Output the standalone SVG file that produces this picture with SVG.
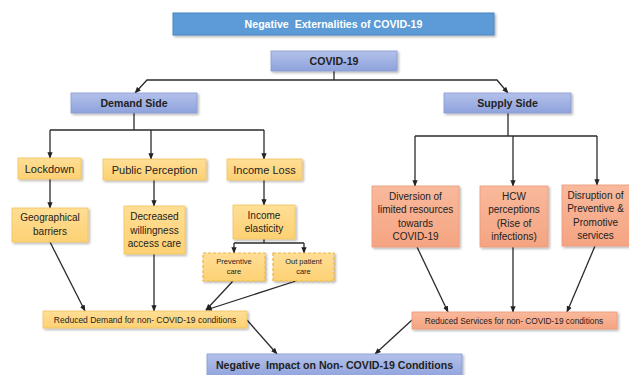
<svg xmlns="http://www.w3.org/2000/svg" width="629" height="375" viewBox="0 0 629 375">
<defs>
<linearGradient id="gLav" x1="0" y1="0" x2="0" y2="1"><stop offset="0" stop-color="#b3c1ea"/><stop offset="1" stop-color="#8ea2dc"/></linearGradient>
<linearGradient id="gYel" x1="0" y1="0" x2="0" y2="1"><stop offset="0" stop-color="#ffde95"/><stop offset="1" stop-color="#fdd174"/></linearGradient>
<linearGradient id="gOra" x1="0" y1="0" x2="0" y2="1"><stop offset="0" stop-color="#f9b99c"/><stop offset="1" stop-color="#f5a481"/></linearGradient>
<filter id="sh" x="-10%" y="-20%" width="125%" height="160%"><feDropShadow dx="1.5" dy="1.5" stdDeviation="1" flood-color="#000" flood-opacity="0.3"/></filter>
<marker id="ah" viewBox="0 0 10 10" refX="9" refY="5" markerWidth="5" markerHeight="5" orient="auto"><path d="M0 1 L10 5 L0 9 z" fill="#222"/></marker>
</defs>
<style>
.t{font-family:"Liberation Sans",Arial,sans-serif;fill:#222;text-anchor:middle}
.b{font-weight:bold}
.blue{fill:#5b9bd5;stroke:#4a86c1;stroke-width:1;filter:url(#sh)}
.lav{fill:url(#gLav);stroke:#8799d2;stroke-width:0.8;filter:url(#sh)}
.yel{fill:url(#gYel);stroke:#f3c45e;stroke-width:0.8;filter:url(#sh)}
.yd{fill:url(#gYel);stroke:#f0b53a;stroke-width:1.2;stroke-dasharray:3 2;filter:url(#sh)}
.ora{fill:url(#gOra);stroke:#ec9a78;stroke-width:0.8;filter:url(#sh)}
.c{fill:none;stroke:#2b2b2b;stroke-width:1.3}
.a{marker-end:url(#ah)}
</style>
<g id="connectors">
<path class="c" d="M334 71 V80"/>
<path class="c a" d="M334 80 H147 L135 93"/>
<path class="c a" d="M334 80 H497 L508 93"/>
<path class="c" d="M134 113 V130 M50 130 H264"/>
<path class="c a" d="M50 130 V158"/>
<path class="c a" d="M151 130 V159"/>
<path class="c a" d="M264 130 V159"/>
<path class="c a" d="M50 179 V208"/>
<path class="c a" d="M154 180 V206"/>
<path class="c a" d="M264 180 V205"/>
<path class="c" d="M264 239 V243 M234 243 H304"/>
<path class="c a" d="M234 243 V253"/>
<path class="c a" d="M304 243 V253"/>
<path class="c a" d="M50 242 L85 311"/>
<path class="c a" d="M154 254 V311"/>
<path class="c a" d="M233 281 L206 310"/>
<path class="c a" d="M299 280 L206 310"/>
<path class="c a" d="M247 320 L277 354"/>
<path class="c" d="M508 113 V136 M415 136 H597"/>
<path class="c a" d="M415 136 V186"/>
<path class="c a" d="M513 136 V186"/>
<path class="c a" d="M597 136 V185"/>
<path class="c a" d="M417 247 L448 312"/>
<path class="c a" d="M513 247 V312"/>
<path class="c a" d="M595 246 L567 312"/>
<path class="c a" d="M412 320 L375 354"/>
</g>
<g id="title"><rect class="blue" x="173" y="13" width="321" height="22"/><text class="t b" x="333.5" y="28" font-size="10.6" fill="#fff" style="fill:#fff" xml:space="preserve">Negative  Externalities of COVID-19</text></g>
<g id="covid"><rect class="lav" x="271" y="51" width="126" height="20"/><text class="t b" x="334" y="65" font-size="10.6">COVID-19</text></g>
<g id="demand"><rect class="lav" x="71" y="93" width="126" height="20"/><text class="t b" x="134" y="107" font-size="10.6">Demand Side</text></g>
<g id="supply"><rect class="lav" x="444" y="93" width="127" height="20"/><text class="t b" x="507.5" y="107" font-size="10.6">Supply Side</text></g>
<g id="lockdown"><rect class="yel" x="18" y="158" width="63" height="21"/><text class="t" x="49.5" y="172.5" font-size="11">Lockdown</text></g>
<g id="perception"><rect class="yel" x="103" y="159" width="103" height="21"/><text class="t" x="154.5" y="173.5" font-size="11">Public Perception</text></g>
<g id="incomeloss"><rect class="yel" x="227" y="159" width="75" height="21"/><text class="t" x="264.5" y="173.5" font-size="11">Income Loss</text></g>
<g id="geo"><rect class="yel" x="12" y="208" width="76" height="34"/><text class="t" x="50" y="221" font-size="10">Geographical</text><text class="t" x="50" y="235" font-size="10">barriers</text></g>
<g id="decreased"><rect class="yel" x="124" y="206" width="61" height="48"/><text class="t" x="154.5" y="220" font-size="10">Decreased</text><text class="t" x="154.5" y="233.5" font-size="10">willingness</text><text class="t" x="154.5" y="247" font-size="10">access care</text></g>
<g id="elasticity"><rect class="yel" x="233" y="205" width="62" height="34"/><text class="t" x="264" y="218.5" font-size="10">Income</text><text class="t" x="264" y="232" font-size="10">elasticity</text></g>
<g id="preventive"><rect class="yd" x="203" y="253" width="62" height="28"/><text class="t" x="234" y="264" font-size="7.5">Preventive</text><text class="t" x="234" y="274" font-size="7.5">care</text></g>
<g id="outpatient"><rect class="yd" x="273" y="253" width="61" height="28"/><text class="t" x="303.5" y="264" font-size="7.5">Out patient</text><text class="t" x="303.5" y="274" font-size="7.5">care</text></g>
<g id="reduceddemand"><rect class="yel" x="43" y="311" width="204" height="17"/><text class="t" x="145" y="323" font-size="8.5">Reduced Demand for non- COVID-19 conditions</text></g>
<g id="diversion"><rect class="ora" x="372" y="186" width="87" height="61"/><text class="t" x="415.5" y="199.5" font-size="10">Diversion of</text><text class="t" x="415.5" y="213" font-size="10">limited resources</text><text class="t" x="415.5" y="226.5" font-size="10">towards</text><text class="t" x="415.5" y="240" font-size="10">COVID-19</text></g>
<g id="hcw"><rect class="ora" x="480" y="186" width="68" height="61"/><text class="t" x="514" y="199.5" font-size="10">HCW</text><text class="t" x="514" y="213" font-size="10">perceptions</text><text class="t" x="514" y="226.5" font-size="10">(Rise of</text><text class="t" x="514" y="240" font-size="10">infections)</text></g>
<g id="disruption"><rect class="ora" x="562" y="185" width="70" height="61"/><text class="t" x="595.5" y="198.5" font-size="10">Disruption of</text><text class="t" x="595.5" y="212" font-size="10">Preventive &amp;</text><text class="t" x="595.5" y="225.5" font-size="10">Promotive</text><text class="t" x="595.5" y="239" font-size="10">services</text></g>
<g id="reducedservices"><rect class="ora" x="412" y="312" width="205" height="17"/><text class="t" x="514" y="324" font-size="8.3">Reduced Services for non- COVID-19 conditions</text></g>
<g id="impact"><rect class="lav" x="207" y="354" width="255" height="24"/><text class="t b" x="334.5" y="368.5" font-size="10.6" xml:space="preserve">Negative  Impact on Non- COVID-19 Conditions</text></g>
</svg>
